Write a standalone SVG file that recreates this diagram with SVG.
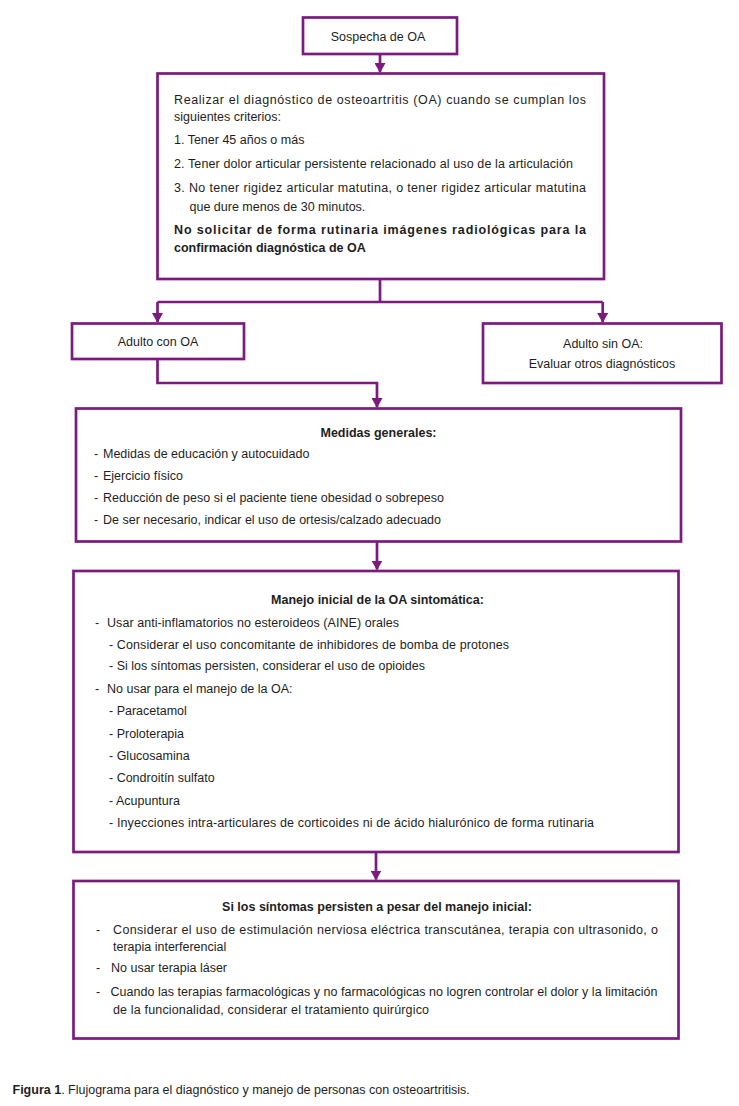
<svg xmlns="http://www.w3.org/2000/svg" width="739" height="1106" viewBox="0 0 739 1106">
<style>
.box{fill:#fff;stroke:#7b1b7e;stroke-width:2.7}
.ln{fill:none;stroke:#7b1b7e;stroke-width:2.7}
text{font-family:"Liberation Sans",Arial,sans-serif;font-size:12.5px;fill:#1e1e1e}
.b{font-weight:bold}
.c{text-anchor:middle}
</style>
<defs>
<marker id="arr" markerUnits="userSpaceOnUse" markerWidth="11" markerHeight="11" refX="9" refY="5.5" orient="auto" viewBox="0 0 11 11">
<path d="M0,0 L10,5.5 L0,11 Z" fill="#7b1b7e"/>
</marker>
</defs>
<rect width="739" height="1106" fill="#fff"/>
<g id="connectors">
<path class="ln" d="M380,54 V72" marker-end="url(#arr)"/>
<path class="ln" d="M380,279 V302 M157.5,302 H602.7"/>
<path class="ln" d="M157.5,302 V322" marker-end="url(#arr)"/>
<path class="ln" d="M602.7,302 V322" marker-end="url(#arr)"/>
<path class="ln" d="M157.5,359 V383 H377 V407" marker-end="url(#arr)"/>
<path class="ln" d="M377,542 V569.5" marker-end="url(#arr)"/>
<path class="ln" d="M376,852 V879.5" marker-end="url(#arr)"/>
</g>
<g id="sospecha">
<rect class="box" x="303" y="17.5" width="154" height="36.5"/>
<text class="c" x="378" y="40.5">Sospecha de OA</text>
</g>
<g id="criterios">
<rect class="box" x="157.5" y="73.5" width="446.5" height="205.5"/>
<text x="174" y="103.5" textLength="412">Realizar el diagnóstico de osteoartritis (OA) cuando se cumplan los</text>
<text x="174" y="121">siguientes criterios:</text>
<text x="174" y="144">1. Tener 45 años o más</text>
<text x="174" y="168" textLength="399">2. Tener dolor articular persistente relacionado al uso de la articulación</text>
<text x="174" y="192" textLength="412">3. No tener rigidez articular matutina, o tener rigidez articular matutina</text>
<text x="189.5" y="210.5">que dure menos de 30 minutos.</text>
<text class="b" x="174" y="234" textLength="412">No solicitar de forma rutinaria imágenes radiológicas para la</text>
<text class="b" x="174" y="252">confirmación diagnóstica de OA</text>
</g>
<g id="adulto-con-oa">
<rect class="box" x="72" y="323.5" width="172" height="35.5"/>
<text class="c" x="158" y="346">Adulto con OA</text>
</g>
<g id="adulto-sin-oa">
<rect class="box" x="483" y="323.5" width="238.5" height="59.5"/>
<text class="c" x="603" y="348">Adulto sin OA:</text>
<text class="c" x="602" y="368">Evaluar otros diagnósticos</text>
</g>
<g id="medidas">
<rect class="box" x="76" y="408.5" width="605" height="133"/>
<text class="b c" x="378.5" y="436.5">Medidas generales:</text>
<text x="94" y="458">-</text><text x="103" y="458">Medidas de educación y autocuidado</text>
<text x="94" y="479.5">-</text><text x="103" y="479.5">Ejercicio físico</text>
<text x="94" y="501.5">-</text><text x="103" y="501.5" textLength="341">Reducción de peso si el paciente tiene obesidad o sobrepeso</text>
<text x="94" y="523.5">-</text><text x="103" y="523.5" textLength="338">De ser necesario, indicar el uso de ortesis/calzado adecuado</text>
</g>
<g id="manejo">
<rect class="box" x="73.5" y="571" width="605" height="281"/>
<text class="b c" x="377.5" y="603.5">Manejo inicial de la OA sintomática:</text>
<text x="95" y="626.5">-</text><text x="107" y="626.5" textLength="292">Usar anti-inflamatorios no esteroideos (AINE) orales</text>
<text x="109" y="648.5" textLength="400">- Considerar el uso concomitante de inhibidores de bomba de protones</text>
<text x="109" y="670" textLength="316">- Si los síntomas persisten, considerar el uso de opioides</text>
<text x="95" y="692.5">-</text><text x="107" y="692.5">No usar para el manejo de la OA:</text>
<text x="109" y="715">- Paracetamol</text>
<text x="109" y="737.5">- Proloterapia</text>
<text x="109" y="759.5">- Glucosamina</text>
<text x="109" y="782">- Condroitín sulfato</text>
<text x="109" y="804.5">- Acupuntura</text>
<text x="109" y="826.5" textLength="485">- Inyecciones intra-articulares de corticoides ni de ácido hialurónico de forma rutinaria</text>
</g>
<g id="persisten">
<rect class="box" x="73.5" y="881" width="605" height="157.5"/>
<text class="b c" x="377" y="910.5">Si los síntomas persisten a pesar del manejo inicial:</text>
<text x="96" y="933.5">-</text><text x="113" y="933.5" textLength="545">Considerar el uso de estimulación nerviosa eléctrica transcutánea, terapia con ultrasonido, o</text>
<text x="113" y="950.5">terapia interferencial</text>
<text x="96" y="972">-</text><text x="111" y="972">No usar terapia láser</text>
<text x="96" y="995.5">-</text><text x="110.5" y="995.5" textLength="547">Cuando las terapias farmacológicas y no farmacológicas no logren controlar el dolor y la limitación</text>
<text x="113" y="1013.5" textLength="316">de la funcionalidad, considerar el tratamiento quirúrgico</text>
</g>
<text x="12.5" y="1094"><tspan class="b">Figura 1</tspan>. Flujograma para el diagnóstico y manejo de personas con osteoartritisis.</text>
</svg>
